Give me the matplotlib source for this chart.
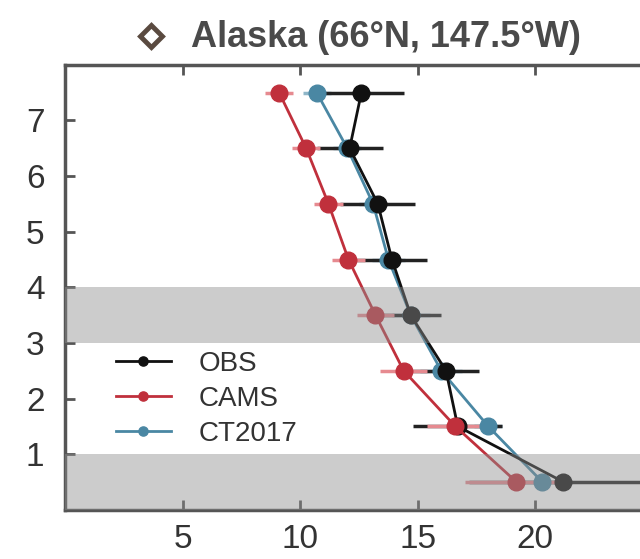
import matplotlib.pyplot as plt
import numpy as np
from matplotlib.lines import Line2D

heights = [7.5, 6.5, 5.5, 4.5, 3.5, 2.5, 1.5, 0.5]

obs = [12.6, 12.1, 13.3, 13.9, 14.7, 16.2, 16.7, 21.2]
obs_err = [1.8, 1.4, 1.6, 1.5, 1.3, 1.4, 1.9, 4.0]

cams = [9.1, 10.25, 11.2, 12.05, 13.2, 14.4, 16.6, 19.2]
cams_err = [0.6, 0.6, 0.6, 0.7, 0.8, 1.0, 1.2, 2.2]

ct2017 = [10.7, 12.0, 13.1, 13.75, 14.7, 16.0, 18.0, 20.3]
ct_err = [0.6, 0.6, 0.6, 0.7, 0.8, 0.9, 0.6, 1.0]

grey_bands = [(0, 1), (3, 4)]
xticks = [5, 10, 15, 20]
yticks = [1, 2, 3, 4, 5, 6, 7]

plt.rcParams['font.family'] = ['Liberation Sans', 'DejaVu Sans']
text_color = '#333333'

fig = plt.figure(figsize=(6.4, 5.59), dpi=100)
ax = fig.add_axes([0.102, 0.088, 0.918, 0.796])

# grey layers sit on top of the profiles, semi-transparent
for lo, hi in grey_bands:
    ax.axhspan(lo, hi, color='#8e8e8e', alpha=0.45, zorder=5, lw=0)

series = [
    ('CT2017', ct2017, ct_err, '#4a87a3', '#8fb6c8'),
    ('OBS', obs, obs_err, '#111111', '#222222'),
    ('CAMS', cams, cams_err, '#c0303c', '#e68a90'),
]
handles = {}
for i, (name, vals, err, col, ecol) in enumerate(series):
    ax.errorbar(vals, heights, xerr=err, fmt='none', ecolor=ecol, elinewidth=2.5, zorder=2)
    h, = ax.plot(vals, heights, '-o', color=col, lw=2, ms=12, zorder=3 + i * 0.1)
    handles[name] = h

ax.legend([handles['OBS'], handles['CAMS'], handles['CT2017']], ['OBS', 'CAMS', 'CT2017'],
          loc='lower left', bbox_to_anchor=(0.062, 0.11), frameon=False, fontsize=20,
          markerscale=0.55, handlelength=2.0, handletextpad=1.0, labelspacing=0.32,
          labelcolor=text_color, borderpad=0)

ax.set_xlim(0, 25)
ax.set_ylim(0, 8)
ax.set_xticks(xticks)
ax.set_yticks(yticks)
ax.tick_params(direction='in', length=7, width=2, colors='#555555', labelcolor=text_color,
               labelsize=24, top=True, right=True, pad=10)
ax.tick_params(axis='y', pad=15)
for sp in ax.spines.values():
    sp.set_linewidth(2.5)
    sp.set_color('#555555')

# site symbol + title
fig.add_artist(Line2D([0.236], [0.935], marker='D', ms=11, mfc='none', mec='#5a4a40',
                      mew=3.5, transform=fig.transFigure))
fig.text(0.603, 0.933, 'Alaska (66\u00b0N, 147.5\u00b0W)', fontsize=26, color='#4a4a4a',
         ha='center', va='center', fontweight='bold')

fig.savefig('out.png', dpi=100)
